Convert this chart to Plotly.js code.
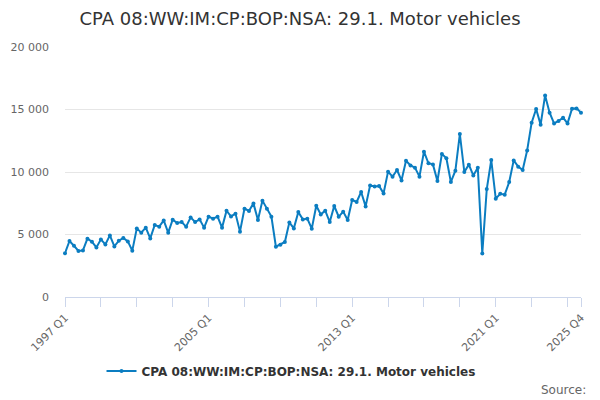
<!DOCTYPE html>
<html>
<head>
<meta charset="utf-8">
<script src="https://cdn.plot.ly/plotly-3.0.1.min.js"></script>
<style>
  html, body { margin: 0; padding: 0; background: #fff; }
  #graph { width: 600px; height: 400px; }
</style>
</head>
<body>
<div id="graph"></div>
<script>
'use strict';

var seriesName = 'CPA 08:WW:IM:CP:BOP:NSA: 29.1. Motor vehicles';

// quarterly periods, 1997 Q1 .. 2025 Q4
var firstYear = 1997;
var lastYear = 2025;

// values, one array per stretch of years
var values1997to2000 = [3500, 4480, 4100, 3680, 3730, 4670, 4430, 3970,
                        4610, 4210, 4930, 4050, 4500, 4720, 4450, 3710];
var values2001to2004 = [5490, 5150, 5550, 4690, 5760, 5630, 6130, 5150,
                        6190, 5920, 6000, 5630, 6370, 6000, 6210, 5550];
var values2005to2008 = [6430, 6270, 6430, 5550, 6900, 6450, 6670, 5230,
                        7070, 6880, 7490, 6160, 7710, 7070, 6430, 4030];
var values2009to2012 = [4190, 4400, 5970, 5490, 6800, 6210, 6270, 5470,
                        7300, 6610, 6900, 6000, 7280, 6430, 6830, 6160];
var values2013to2016 = [7760, 7600, 8400, 7250, 8930, 8850, 8880, 8290,
                        10030, 9630, 10160, 9330, 10900, 10530, 10350, 9630];
var values2017to2020 = [11630, 10700, 10610, 9280, 11450, 11100, 9200, 10110,
                        13040, 10000, 10590, 9730, 10350, 3490, 8640, 10960];
var values2021to2025 = [7870, 8260, 8190, 9200, 10930, 10430, 10160, 11730,
                        13950, 15040, 13790, 16130, 14750, 13890, 14080, 14350,
                        13890, 15070, 15090, 14750];

var yTicks = [0, 5000, 10000, 15000, 20000];
var labelledPeriods = ['1997 Q1', '2005 Q1', '2013 Q1', '2021 Q1', '2025 Q4'];

var periods = [];
for (var y = firstYear; y <= lastYear; y++) {
  for (var q = 1; q <= 4; q++) {
    periods.push(y + ' Q' + q);
  }
}

var values = [].concat(values1997to2000, values2001to2004, values2005to2008,
  values2009to2012, values2013to2016, values2017to2020, values2021to2025);

// a tick every two years, plus the last period; only some get a label
var tickVals = [], tickText = [];
for (var i = 0; i < periods.length; i += 8) {
  tickVals.push(periods[i]);
}
tickVals.push(periods[periods.length - 1]);
tickVals.forEach(function (p) {
  tickText.push(labelledPeriods.indexOf(p) >= 0 ? p : '');
});

var lineColor = '#0b7dc1';

var trace = {
  type: 'scatter',
  mode: 'lines+markers',
  name: seriesName,
  x: periods,
  y: values,
  cliponaxis: false,
  line: { color: lineColor, width: 2 },
  marker: { color: lineColor, size: 4 },
  hovertemplate: '%{x}: %{y}<extra></extra>'
};

var layout = {
  width: 600,
  height: 400,
  paper_bgcolor: '#fff',
  plot_bgcolor: '#fff',
  separators: '. ',
  font: { family: 'DejaVu Sans, sans-serif', color: '#666', size: 11 },
  margin: { l: 65, r: 19, t: 47, b: 103, pad: 0 },
  title: {
    text: seriesName,
    font: { family: 'DejaVu Sans, sans-serif', size: 18, color: '#333' },
    x: 0.5, xanchor: 'center',
    y: 0.953, yanchor: 'middle', yref: 'container'
  },
  xaxis: {
    type: 'category',
    range: [0, periods.length - 1],
    tickmode: 'array',
    tickvals: tickVals,
    ticktext: tickText,
    tickangle: -45,
    ticks: 'outside',
    ticklen: 9,
    tickcolor: '#ccd6eb',
    showline: true,
    linecolor: '#ccd6eb',
    linewidth: 1,
    showgrid: false,
    zeroline: false,
    tickfont: { size: 11, color: '#666' }
  },
  yaxis: {
    range: [0, 20000],
    tickmode: 'array',
    tickvals: yTicks,
    tickformat: ',d',
    showgrid: true,
    gridcolor: '#e6e6e6',
    gridwidth: 1,
    zeroline: false,
    showline: false,
    ticks: '',
    ticklabelstandoff: 15,
    tickfont: { size: 11, color: '#666' }
  },
  showlegend: true,
  legend: {
    orientation: 'h',
    x: 0.438, xanchor: 'center',
    y: -0.296, yanchor: 'middle',
    font: { family: 'DejaVu Sans, sans-serif', size: 12, color: '#333', weight: 'bold' }
  },
  annotations: [{
    text: 'Source:',
    xref: 'paper', yref: 'paper',
    x: 1.0136, xanchor: 'right',
    y: -0.372, yanchor: 'middle',
    showarrow: false,
    font: { family: 'DejaVu Sans, sans-serif', size: 12, color: '#666' }
  }]
};

var conf = { displayModeBar: false, staticPlot: true };

Plotly.newPlot(document.getElementById('graph'), [trace], layout, conf);
</script>
</body>
</html>
